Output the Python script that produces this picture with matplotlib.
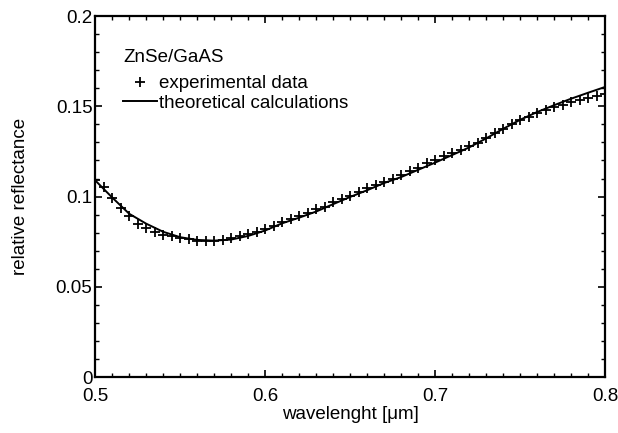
import matplotlib
matplotlib.use("Agg")
import matplotlib.pyplot as plt
import numpy as np
from matplotlib.ticker import FixedLocator, MultipleLocator

plt.rcParams["font.family"] = ["Liberation Sans", "DejaVu Sans"]

# theoretical curve, read every 0.01 um
theory_wl = [0.50, 0.51, 0.52, 0.53, 0.54, 0.55, 0.56, 0.57, 0.58, 0.59,
             0.60, 0.61, 0.62, 0.63, 0.64, 0.65, 0.66, 0.67, 0.68, 0.69,
             0.70, 0.71, 0.72, 0.73, 0.74, 0.75, 0.76, 0.77, 0.78, 0.79, 0.80]
theory_r = [0.1090, 0.0995, 0.0905, 0.0850, 0.0805, 0.0775, 0.0760, 0.0756, 0.0762, 0.0782,
            0.0812, 0.0852, 0.0883, 0.0917, 0.0958, 0.0998, 0.1035, 0.1075, 0.1108, 0.1148,
            0.1188, 0.1230, 0.1272, 0.1322, 0.1375, 0.1425, 0.1468, 0.1506, 0.1542, 0.1575, 0.1607]

# experimental data, read every 0.005 um
exp_wl = [0.500, 0.505, 0.510, 0.515, 0.520, 0.525, 0.530, 0.535, 0.540, 0.545,
          0.550, 0.555, 0.560, 0.565, 0.570, 0.575, 0.580, 0.585, 0.590, 0.595,
          0.600, 0.605, 0.610, 0.615, 0.620, 0.625, 0.630, 0.635, 0.640, 0.645,
          0.650, 0.655, 0.660, 0.665, 0.670, 0.675, 0.680, 0.685, 0.690, 0.695,
          0.700, 0.705, 0.710, 0.715, 0.720, 0.725, 0.730, 0.735, 0.740, 0.745,
          0.750, 0.755, 0.760, 0.765, 0.770, 0.775, 0.780, 0.785, 0.790, 0.795, 0.800]
exp_r = [0.1090, 0.1055, 0.0990, 0.0936, 0.0890, 0.0848, 0.0824, 0.0803, 0.0788, 0.0779,
         0.0770, 0.0763, 0.0754, 0.0752, 0.0752, 0.0762, 0.0770, 0.0780, 0.0791, 0.0805,
         0.0820, 0.0838, 0.0860, 0.0876, 0.0893, 0.0910, 0.0930, 0.0945, 0.0968, 0.0985,
         0.1005, 0.1025, 0.1045, 0.1062, 0.1080, 0.1098, 0.1120, 0.1140, 0.1160, 0.1185,
         0.1205, 0.1222, 0.1240, 0.1260, 0.1280, 0.1298, 0.1325, 0.1350, 0.1376, 0.1402,
         0.1424, 0.1443, 0.1461, 0.1478, 0.1496, 0.1509, 0.1524, 0.1537, 0.1547, 0.1559, 0.1568]

x_ticks = [0.5, 0.6, 0.7, 0.8]
x_tick_labels = ["0.5", "0.6", "0.7", "0.8"]
y_ticks = [0, 0.05, 0.1, 0.15, 0.2]
y_tick_labels = ["0", "0.05", "0.1", "0.15", "0.2"]

fig = plt.figure(figsize=(6.18, 4.33), dpi=100)
ax = fig.add_axes([0.154, 0.129, 0.825, 0.834])

ax.plot(exp_wl, exp_r, linestyle="none", marker="+", markersize=6.5,
        markeredgewidth=1.3, color="black", label="experimental data")
ax.plot(theory_wl, theory_r, color="black", linewidth=1.4,
        label="theoretical calculations")

ax.set_xlim(0.5, 0.8)
ax.set_ylim(0, 0.2)
ax.xaxis.set_major_locator(FixedLocator(x_ticks))
ax.set_xticklabels(x_tick_labels)
ax.yaxis.set_major_locator(FixedLocator(y_ticks))
ax.set_yticklabels(y_tick_labels)
ax.xaxis.set_minor_locator(MultipleLocator(0.01))
ax.yaxis.set_minor_locator(MultipleLocator(0.01))
ax.tick_params(which="both", direction="in", top=True, right=True,
               labelsize=13.5, pad=2)
ax.tick_params(axis="x", which="major", pad=8)
ax.tick_params(which="major", length=5, width=1.2)
ax.tick_params(which="minor", length=3, width=1)
for s in ax.spines.values():
    s.set_linewidth(1.6)

ax.set_xlabel("wavelenght [\u03bcm]", fontsize=13.5, labelpad=0.5)
ax.set_ylabel("relative reflectance", fontsize=13.5, labelpad=19)

ax.text(0.055, 0.886, "ZnSe/GaAS", transform=ax.transAxes,
        fontsize=13.5, ha="left", va="center")
ax.legend(loc="upper left", bbox_to_anchor=(0.04, 0.857),
          frameon=False, fontsize=13.5, handlelength=1.8,
          handletextpad=0.1, borderaxespad=0, labelspacing=0.12)

fig.savefig("out.png", dpi=100)
